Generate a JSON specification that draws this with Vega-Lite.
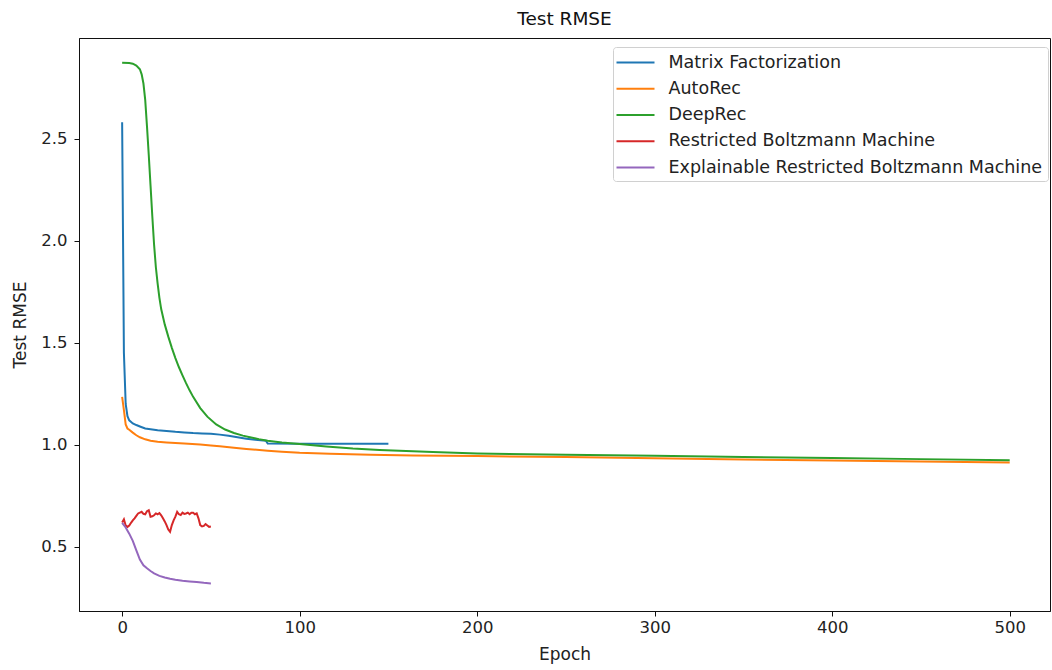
{
  "$schema": "https://vega.github.io/schema/vega-lite/v6.json",
  "width": 971,
  "height": 573,
  "autosize": {"type": "none"},
  "padding": {"left": 79, "top": 38, "right": 2, "bottom": 59},
  "background": "white",
  "title": {"text": "Test RMSE", "fontSize": 18.5, "font": "DejaVu Sans", "fontWeight": "normal", "color": "#111", "offset": 10, "anchor": "middle"},
  "config": {
    "view": {"stroke": "#111", "strokeWidth": 1},
    "font": "DejaVu Sans",
    "axis": {"grid": false, "domainColor": "#111", "tickColor": "#111", "tickSize": 5, "labelFontSize": 16.5, "labelColor": "#222", "titleFontSize": 17, "titleColor": "#222", "titleFontWeight": "normal", "labelFont": "DejaVu Sans", "titleFont": "DejaVu Sans"}
  },
  "data": {"values": [
    {"model": "Matrix Factorization", "epoch": 0, "rmse": 2.58},
    {"model": "Matrix Factorization", "epoch": 1, "rmse": 1.45},
    {"model": "Matrix Factorization", "epoch": 2, "rmse": 1.2},
    {"model": "Matrix Factorization", "epoch": 3, "rmse": 1.14},
    {"model": "Matrix Factorization", "epoch": 4, "rmse": 1.12},
    {"model": "Matrix Factorization", "epoch": 6, "rmse": 1.105},
    {"model": "Matrix Factorization", "epoch": 8, "rmse": 1.097},
    {"model": "Matrix Factorization", "epoch": 10, "rmse": 1.09},
    {"model": "Matrix Factorization", "epoch": 13, "rmse": 1.08},
    {"model": "Matrix Factorization", "epoch": 16, "rmse": 1.076},
    {"model": "Matrix Factorization", "epoch": 20, "rmse": 1.071},
    {"model": "Matrix Factorization", "epoch": 25, "rmse": 1.068},
    {"model": "Matrix Factorization", "epoch": 30, "rmse": 1.064},
    {"model": "Matrix Factorization", "epoch": 35, "rmse": 1.061},
    {"model": "Matrix Factorization", "epoch": 40, "rmse": 1.058},
    {"model": "Matrix Factorization", "epoch": 45, "rmse": 1.056},
    {"model": "Matrix Factorization", "epoch": 50, "rmse": 1.054},
    {"model": "Matrix Factorization", "epoch": 55, "rmse": 1.05},
    {"model": "Matrix Factorization", "epoch": 60, "rmse": 1.044},
    {"model": "Matrix Factorization", "epoch": 65, "rmse": 1.037},
    {"model": "Matrix Factorization", "epoch": 70, "rmse": 1.03},
    {"model": "Matrix Factorization", "epoch": 75, "rmse": 1.025},
    {"model": "Matrix Factorization", "epoch": 81, "rmse": 1.02},
    {"model": "Matrix Factorization", "epoch": 82, "rmse": 1.006},
    {"model": "Matrix Factorization", "epoch": 100, "rmse": 1.005},
    {"model": "Matrix Factorization", "epoch": 125, "rmse": 1.005},
    {"model": "Matrix Factorization", "epoch": 150, "rmse": 1.005},

    {"model": "AutoRec", "epoch": 0, "rmse": 1.235},
    {"model": "AutoRec", "epoch": 1, "rmse": 1.17},
    {"model": "AutoRec", "epoch": 2, "rmse": 1.1},
    {"model": "AutoRec", "epoch": 3, "rmse": 1.08},
    {"model": "AutoRec", "epoch": 4, "rmse": 1.074},
    {"model": "AutoRec", "epoch": 6, "rmse": 1.06},
    {"model": "AutoRec", "epoch": 8, "rmse": 1.047},
    {"model": "AutoRec", "epoch": 10, "rmse": 1.037},
    {"model": "AutoRec", "epoch": 13, "rmse": 1.027},
    {"model": "AutoRec", "epoch": 16, "rmse": 1.02},
    {"model": "AutoRec", "epoch": 20, "rmse": 1.015},
    {"model": "AutoRec", "epoch": 25, "rmse": 1.012},
    {"model": "AutoRec", "epoch": 30, "rmse": 1.009},
    {"model": "AutoRec", "epoch": 35, "rmse": 1.006},
    {"model": "AutoRec", "epoch": 44, "rmse": 1.002},
    {"model": "AutoRec", "epoch": 50, "rmse": 0.997},
    {"model": "AutoRec", "epoch": 55, "rmse": 0.993},
    {"model": "AutoRec", "epoch": 63, "rmse": 0.986},
    {"model": "AutoRec", "epoch": 70, "rmse": 0.98},
    {"model": "AutoRec", "epoch": 82, "rmse": 0.971},
    {"model": "AutoRec", "epoch": 90, "rmse": 0.966},
    {"model": "AutoRec", "epoch": 100, "rmse": 0.961},
    {"model": "AutoRec", "epoch": 117, "rmse": 0.956},
    {"model": "AutoRec", "epoch": 140, "rmse": 0.951},
    {"model": "AutoRec", "epoch": 164, "rmse": 0.948},
    {"model": "AutoRec", "epoch": 200, "rmse": 0.945},
    {"model": "AutoRec", "epoch": 250, "rmse": 0.94},
    {"model": "AutoRec", "epoch": 300, "rmse": 0.934},
    {"model": "AutoRec", "epoch": 350, "rmse": 0.928},
    {"model": "AutoRec", "epoch": 400, "rmse": 0.923},
    {"model": "AutoRec", "epoch": 450, "rmse": 0.918},
    {"model": "AutoRec", "epoch": 500, "rmse": 0.914},

    {"model": "DeepRec", "epoch": 0, "rmse": 2.872},
    {"model": "DeepRec", "epoch": 4, "rmse": 2.871},
    {"model": "DeepRec", "epoch": 6, "rmse": 2.867},
    {"model": "DeepRec", "epoch": 8, "rmse": 2.858},
    {"model": "DeepRec", "epoch": 10, "rmse": 2.84},
    {"model": "DeepRec", "epoch": 11, "rmse": 2.815},
    {"model": "DeepRec", "epoch": 12, "rmse": 2.77},
    {"model": "DeepRec", "epoch": 13, "rmse": 2.69},
    {"model": "DeepRec", "epoch": 14, "rmse": 2.56},
    {"model": "DeepRec", "epoch": 15, "rmse": 2.42},
    {"model": "DeepRec", "epoch": 16, "rmse": 2.27},
    {"model": "DeepRec", "epoch": 17, "rmse": 2.12},
    {"model": "DeepRec", "epoch": 18, "rmse": 1.98},
    {"model": "DeepRec", "epoch": 19, "rmse": 1.87},
    {"model": "DeepRec", "epoch": 20, "rmse": 1.79},
    {"model": "DeepRec", "epoch": 21, "rmse": 1.72},
    {"model": "DeepRec", "epoch": 22, "rmse": 1.665},
    {"model": "DeepRec", "epoch": 24, "rmse": 1.59},
    {"model": "DeepRec", "epoch": 26, "rmse": 1.53},
    {"model": "DeepRec", "epoch": 28, "rmse": 1.475},
    {"model": "DeepRec", "epoch": 30, "rmse": 1.425},
    {"model": "DeepRec", "epoch": 32, "rmse": 1.38},
    {"model": "DeepRec", "epoch": 34, "rmse": 1.34},
    {"model": "DeepRec", "epoch": 36, "rmse": 1.302},
    {"model": "DeepRec", "epoch": 38, "rmse": 1.267},
    {"model": "DeepRec", "epoch": 40, "rmse": 1.235},
    {"model": "DeepRec", "epoch": 44, "rmse": 1.18},
    {"model": "DeepRec", "epoch": 48, "rmse": 1.138},
    {"model": "DeepRec", "epoch": 53, "rmse": 1.1},
    {"model": "DeepRec", "epoch": 58, "rmse": 1.075},
    {"model": "DeepRec", "epoch": 63, "rmse": 1.058},
    {"model": "DeepRec", "epoch": 68, "rmse": 1.045},
    {"model": "DeepRec", "epoch": 72, "rmse": 1.037},
    {"model": "DeepRec", "epoch": 77, "rmse": 1.028},
    {"model": "DeepRec", "epoch": 82, "rmse": 1.02},
    {"model": "DeepRec", "epoch": 90, "rmse": 1.012},
    {"model": "DeepRec", "epoch": 100, "rmse": 1.004},
    {"model": "DeepRec", "epoch": 115, "rmse": 0.992},
    {"model": "DeepRec", "epoch": 130, "rmse": 0.982},
    {"model": "DeepRec", "epoch": 145, "rmse": 0.975},
    {"model": "DeepRec", "epoch": 175, "rmse": 0.965},
    {"model": "DeepRec", "epoch": 200, "rmse": 0.958},
    {"model": "DeepRec", "epoch": 250, "rmse": 0.951},
    {"model": "DeepRec", "epoch": 300, "rmse": 0.946},
    {"model": "DeepRec", "epoch": 350, "rmse": 0.94},
    {"model": "DeepRec", "epoch": 400, "rmse": 0.935},
    {"model": "DeepRec", "epoch": 450, "rmse": 0.93},
    {"model": "DeepRec", "epoch": 500, "rmse": 0.925},

    {"model": "Restricted Boltzmann Machine", "epoch": 0, "rmse": 0.62},
    {"model": "Restricted Boltzmann Machine", "epoch": 1, "rmse": 0.635},
    {"model": "Restricted Boltzmann Machine", "epoch": 2, "rmse": 0.605},
    {"model": "Restricted Boltzmann Machine", "epoch": 3, "rmse": 0.598},
    {"model": "Restricted Boltzmann Machine", "epoch": 4, "rmse": 0.605},
    {"model": "Restricted Boltzmann Machine", "epoch": 5, "rmse": 0.618},
    {"model": "Restricted Boltzmann Machine", "epoch": 6, "rmse": 0.63},
    {"model": "Restricted Boltzmann Machine", "epoch": 7, "rmse": 0.64},
    {"model": "Restricted Boltzmann Machine", "epoch": 8, "rmse": 0.652},
    {"model": "Restricted Boltzmann Machine", "epoch": 9, "rmse": 0.664},
    {"model": "Restricted Boltzmann Machine", "epoch": 10, "rmse": 0.668},
    {"model": "Restricted Boltzmann Machine", "epoch": 11, "rmse": 0.672},
    {"model": "Restricted Boltzmann Machine", "epoch": 12, "rmse": 0.662},
    {"model": "Restricted Boltzmann Machine", "epoch": 13, "rmse": 0.66},
    {"model": "Restricted Boltzmann Machine", "epoch": 14, "rmse": 0.675},
    {"model": "Restricted Boltzmann Machine", "epoch": 15, "rmse": 0.68},
    {"model": "Restricted Boltzmann Machine", "epoch": 16, "rmse": 0.648},
    {"model": "Restricted Boltzmann Machine", "epoch": 17, "rmse": 0.65},
    {"model": "Restricted Boltzmann Machine", "epoch": 18, "rmse": 0.655},
    {"model": "Restricted Boltzmann Machine", "epoch": 19, "rmse": 0.664},
    {"model": "Restricted Boltzmann Machine", "epoch": 20, "rmse": 0.66},
    {"model": "Restricted Boltzmann Machine", "epoch": 21, "rmse": 0.666},
    {"model": "Restricted Boltzmann Machine", "epoch": 22, "rmse": 0.655},
    {"model": "Restricted Boltzmann Machine", "epoch": 23, "rmse": 0.64},
    {"model": "Restricted Boltzmann Machine", "epoch": 24, "rmse": 0.625},
    {"model": "Restricted Boltzmann Machine", "epoch": 25, "rmse": 0.607},
    {"model": "Restricted Boltzmann Machine", "epoch": 26, "rmse": 0.585},
    {"model": "Restricted Boltzmann Machine", "epoch": 27, "rmse": 0.574},
    {"model": "Restricted Boltzmann Machine", "epoch": 28, "rmse": 0.607},
    {"model": "Restricted Boltzmann Machine", "epoch": 29, "rmse": 0.63},
    {"model": "Restricted Boltzmann Machine", "epoch": 30, "rmse": 0.648},
    {"model": "Restricted Boltzmann Machine", "epoch": 31, "rmse": 0.672},
    {"model": "Restricted Boltzmann Machine", "epoch": 32, "rmse": 0.66},
    {"model": "Restricted Boltzmann Machine", "epoch": 33, "rmse": 0.656},
    {"model": "Restricted Boltzmann Machine", "epoch": 34, "rmse": 0.668},
    {"model": "Restricted Boltzmann Machine", "epoch": 35, "rmse": 0.662},
    {"model": "Restricted Boltzmann Machine", "epoch": 36, "rmse": 0.664},
    {"model": "Restricted Boltzmann Machine", "epoch": 37, "rmse": 0.668},
    {"model": "Restricted Boltzmann Machine", "epoch": 38, "rmse": 0.66},
    {"model": "Restricted Boltzmann Machine", "epoch": 39, "rmse": 0.667},
    {"model": "Restricted Boltzmann Machine", "epoch": 40, "rmse": 0.667},
    {"model": "Restricted Boltzmann Machine", "epoch": 41, "rmse": 0.66},
    {"model": "Restricted Boltzmann Machine", "epoch": 42, "rmse": 0.664},
    {"model": "Restricted Boltzmann Machine", "epoch": 43, "rmse": 0.64},
    {"model": "Restricted Boltzmann Machine", "epoch": 44, "rmse": 0.607},
    {"model": "Restricted Boltzmann Machine", "epoch": 45, "rmse": 0.6},
    {"model": "Restricted Boltzmann Machine", "epoch": 46, "rmse": 0.603},
    {"model": "Restricted Boltzmann Machine", "epoch": 47, "rmse": 0.612},
    {"model": "Restricted Boltzmann Machine", "epoch": 48, "rmse": 0.605},
    {"model": "Restricted Boltzmann Machine", "epoch": 49, "rmse": 0.598},
    {"model": "Restricted Boltzmann Machine", "epoch": 50, "rmse": 0.6},

    {"model": "Explainable Restricted Boltzmann Machine", "epoch": 0, "rmse": 0.618},
    {"model": "Explainable Restricted Boltzmann Machine", "epoch": 2, "rmse": 0.595},
    {"model": "Explainable Restricted Boltzmann Machine", "epoch": 4, "rmse": 0.565},
    {"model": "Explainable Restricted Boltzmann Machine", "epoch": 6, "rmse": 0.53},
    {"model": "Explainable Restricted Boltzmann Machine", "epoch": 8, "rmse": 0.483},
    {"model": "Explainable Restricted Boltzmann Machine", "epoch": 10, "rmse": 0.438},
    {"model": "Explainable Restricted Boltzmann Machine", "epoch": 12, "rmse": 0.41},
    {"model": "Explainable Restricted Boltzmann Machine", "epoch": 14, "rmse": 0.395},
    {"model": "Explainable Restricted Boltzmann Machine", "epoch": 16, "rmse": 0.382},
    {"model": "Explainable Restricted Boltzmann Machine", "epoch": 18, "rmse": 0.37},
    {"model": "Explainable Restricted Boltzmann Machine", "epoch": 21, "rmse": 0.358},
    {"model": "Explainable Restricted Boltzmann Machine", "epoch": 24, "rmse": 0.35},
    {"model": "Explainable Restricted Boltzmann Machine", "epoch": 27, "rmse": 0.344},
    {"model": "Explainable Restricted Boltzmann Machine", "epoch": 30, "rmse": 0.339},
    {"model": "Explainable Restricted Boltzmann Machine", "epoch": 34, "rmse": 0.334},
    {"model": "Explainable Restricted Boltzmann Machine", "epoch": 38, "rmse": 0.331},
    {"model": "Explainable Restricted Boltzmann Machine", "epoch": 42, "rmse": 0.328},
    {"model": "Explainable Restricted Boltzmann Machine", "epoch": 46, "rmse": 0.324},
    {"model": "Explainable Restricted Boltzmann Machine", "epoch": 50, "rmse": 0.321}
  ]},
  "mark": {"type": "line", "strokeWidth": 2, "clip": true},
  "encoding": {
    "x": {"field": "epoch", "type": "quantitative", "title": "Epoch",
      "scale": {"domain": [-24.3, 522.7], "nice": false, "zero": false},
      "axis": {"values": [0, 100, 200, 300, 400, 500], "labelPadding": 3, "titlePadding": 11}},
    "y": {"field": "rmse", "type": "quantitative", "title": "Test RMSE",
      "scale": {"domain": [0.186, 2.993], "nice": false, "zero": false},
      "axis": {"values": [0.5, 1.0, 1.5, 2.0, 2.5], "format": ".1f", "labelPadding": 7, "titlePadding": 11}},
    "color": {"field": "model", "type": "nominal",
      "scale": {"domain": ["Matrix Factorization", "AutoRec", "DeepRec", "Restricted Boltzmann Machine", "Explainable Restricted Boltzmann Machine"],
        "range": ["#1f77b4", "#ff7f0e", "#2ca02c", "#d62728", "#9467bd"]},
      "legend": {"title": null, "orient": "none", "legendX": 534, "legendY": 9,
        "symbolType": "M-2,0H2", "symbolSize": 361, "symbolStrokeWidth": 2, "symbolOffset": 7,
        "labelFontSize": 17.5, "labelColor": "#222", "labelFont": "DejaVu Sans", "labelLimit": 500, "labelOffset": 22.5,
        "strokeColor": "#d0d0d0", "fillColor": "white", "cornerRadius": 3, "padding": 5, "rowPadding": 7.25}}
  }
}
